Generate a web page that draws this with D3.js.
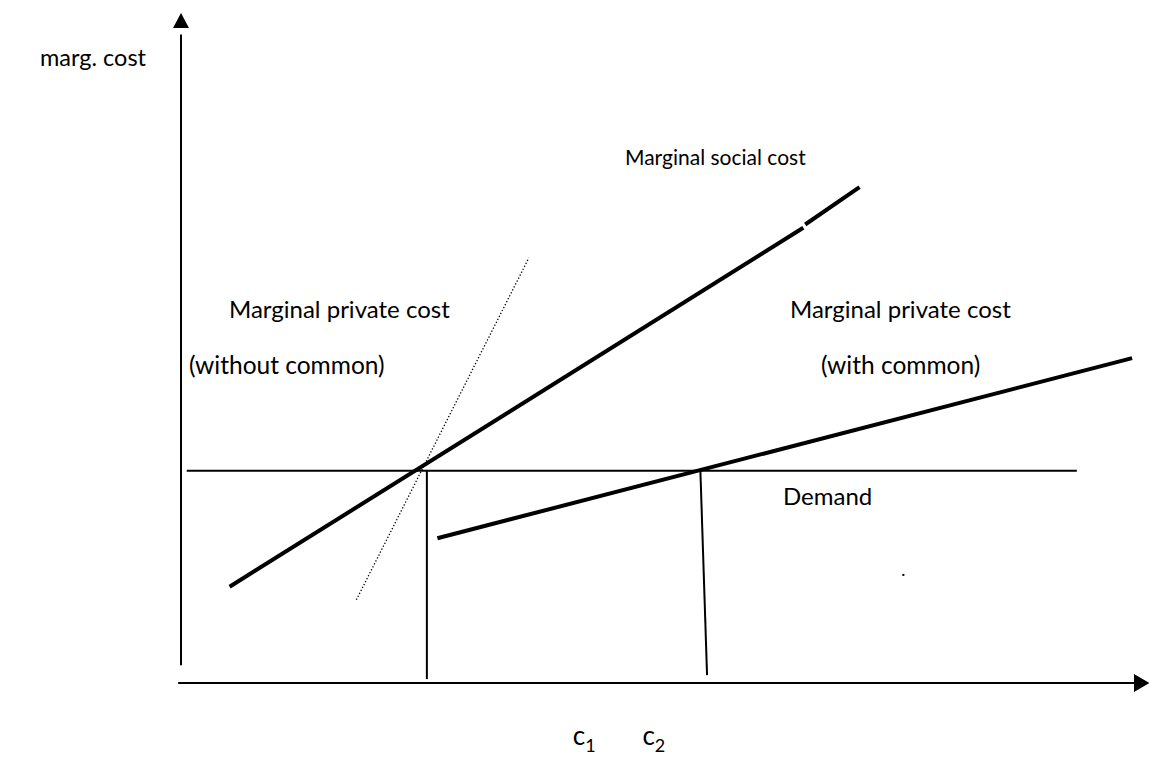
<!DOCTYPE html>
<html>
<head>
<meta charset="utf-8">
<script src="https://cdn.jsdelivr.net/npm/d3@7"></script>
<style>
  body { margin: 0; background: #fff; }
  text { font-family: Lato, "Open Sans", sans-serif; fill: #000; }
</style>
</head>
<body>
<svg id="chart" width="1149" height="765"></svg>
<script>
// quantity on x (0..100), marginal cost on y (0..100)
const socialCost = [[5.1, 14.7], [65.3, 69.5]];
const socialCostEnd = [[65.5, 70.0], [71.2, 75.7]];
const privateWith = [[26.9, 22.1], [99.8, 49.6]];
const privateWithout = [[18.4, 12.7], [36.5, 64.9]];
const demand = [[0.6, 32.4], [94.0, 32.4]];
const c1Drop = [[25.8, 32.4], [25.8, 0.6]];
const c2Drop = [[54.5, 32.4], [55.2, 1.2]];
const stray = [75.8, 16.5];
const qLabels = ["1", "2"];

const svg = d3.select("#chart");

const x = d3.scaleLinear().domain([0, 100]).range([181, 1134]);
const y = d3.scaleLinear().domain([0, 100]).range([683, 28]);

const line = d3.line().x(d => x(d[0])).y(d => y(d[1]));

// axes
svg.append("line")
  .attr("x1", x(0)).attr("x2", x(0))
  .attr("y1", y(2.7)).attr("y2", y(99))
  .attr("stroke", "#000").attr("stroke-width", 2);
svg.append("path")
  .attr("d", `M${x(0)},${y(102.3)} L${x(0) - 8},${y(100)} L${x(0) + 8},${y(100)} Z`)
  .attr("fill", "#000");

svg.append("line")
  .attr("x1", x(-0.3)).attr("x2", x(100.5))
  .attr("y1", y(0)).attr("y2", y(0))
  .attr("stroke", "#000").attr("stroke-width", 2);
svg.append("path")
  .attr("d", `M${x(101.6)},${y(0)} L${x(100)},${y(0) - 9} L${x(100)},${y(0) + 9} Z`)
  .attr("fill", "#000");

// thin lines
[demand, c1Drop, c2Drop].forEach(d => {
  svg.append("path")
    .attr("d", line(d))
    .attr("fill", "none")
    .attr("stroke", "#000")
    .attr("stroke-width", 2);
});

// dotted private cost without common
svg.append("path")
  .attr("d", line(privateWithout))
  .attr("fill", "none")
  .attr("stroke", "#000")
  .attr("stroke-width", 1.3)
  .attr("stroke-dasharray", "1.3,2");

// thick cost curves
[socialCost, socialCostEnd, privateWith].forEach(d => {
  svg.append("path")
    .attr("d", line(d))
    .attr("fill", "none")
    .attr("stroke", "#000")
    .attr("stroke-width", 4);
});

svg.append("rect")
  .attr("x", x(stray[0]) - 1).attr("y", y(stray[1]) - 1)
  .attr("width", 2).attr("height", 2)
  .attr("fill", "#000");

// labels
const label = (tx, ty, str, size) =>
  svg.append("text").attr("x", tx).attr("y", ty)
    .attr("font-size", size).text(str);

label(40, 66, "marg. cost", 23.5);
label(625, 165, "Marginal social cost", 21);
label(229, 318, "Marginal private cost", 24);
label(189, 374, "(without common)", 24.5);
label(790, 318, "Marginal private cost", 24);
label(821, 374, "(with common)", 24.5);
label(783, 505, "Demand", 24);

[[x(25.8) + 146, qLabels[0]], [x(54.5) - 58, qLabels[1]]].forEach(([tx, sub]) => {
  const t = svg.append("text").attr("x", tx).attr("y", 745).attr("font-size", 26);
  t.append("tspan").text("c");
  t.append("tspan").attr("dy", 7).attr("font-size", 18).text(sub);
});
</script>
</body>
</html>
